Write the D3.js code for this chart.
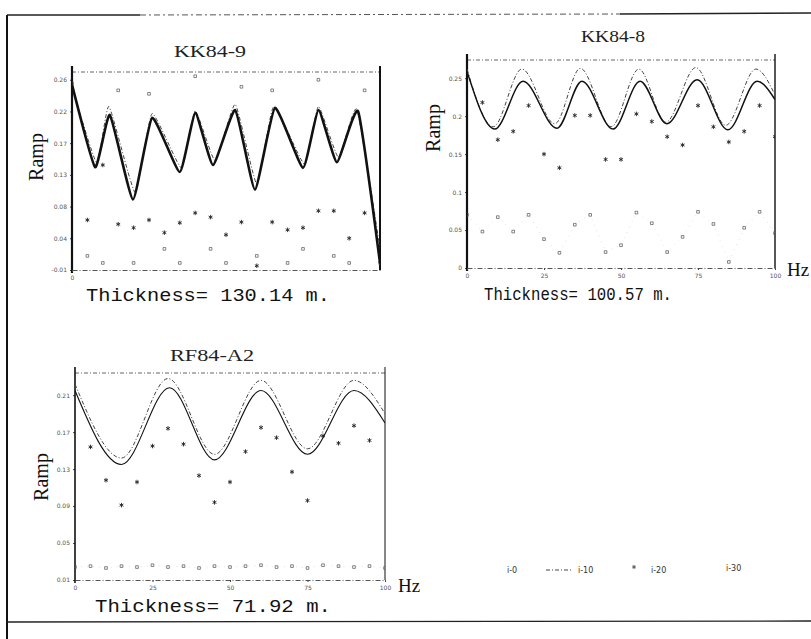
<!DOCTYPE html>
<html>
<head>
<meta charset="utf-8">
<script src="https://cdn.jsdelivr.net/npm/d3@7"></script>
<style>
  body { margin: 0; background: #fff; }
  svg { display: block; }
  .tick text { font-family: 'DejaVu Sans', sans-serif; font-size: 6px; fill: #555; }
  .tick line { stroke: #444; }
</style>
</head>
<body>
<script>
const w = 811;
const h = 639;

// ---- KK84-9 ----
const k9YTicks = [-0.01, 0.035, 0.08, 0.125, 0.17, 0.215, 0.26];
const k9YLabels = ['-0.01', '0.04', '0.08', '0.13', '0.17', '0.22', '0.26'];
const k9XTicks = [0];
const k9XLabels = ['0'];
const k9I0Hz = [0, 7.5, 12.3, 19.8, 26, 35, 40, 45.8, 53, 59.4, 65.9, 75, 80, 86, 92.9, 100];
const k9I0 = [0.253, 0.136, 0.21, 0.09, 0.206, 0.129, 0.213, 0.139, 0.217, 0.104, 0.22, 0.135, 0.217, 0.143, 0.215, 0.0];
const k9I10Hz = [0, 8, 12, 20.5, 26, 35.5, 40, 46.5, 53, 60, 65.5, 75.5, 80, 86.5, 92.5, 100];
const k9I10 = [0.25, 0.142, 0.222, 0.1, 0.212, 0.135, 0.216, 0.145, 0.225, 0.112, 0.222, 0.14, 0.222, 0.15, 0.218, 0.02];
const k9I20Hz = [5, 10, 15, 20, 25, 30, 35, 40, 45, 50, 55, 60, 65, 70, 75, 80, 85, 90, 95];
const k9I20 = [0.061, 0.139, 0.055, 0.05, 0.061, 0.043, 0.057, 0.071, 0.065, 0.04, 0.058, -0.004, 0.058, 0.047, 0.05, 0.074, 0.074, 0.035, 0.071];
const k9I30Hz = [0, 5, 10, 15, 20, 25, 30, 35, 40, 45, 50, 55, 60, 65, 70, 75, 80, 85, 90, 95, 100];
const k9I30 = [0.255, 0.01, 0.0, 0.245, 0.0, 0.24, 0.02, 0.0, 0.265, 0.02, 0.0, 0.25, 0.01, 0.245, 0.0, 0.02, 0.26, 0.01, 0.0, 0.245, 0.0];

// ---- KK84-8 ----
const k8YTicks = [0, 0.05, 0.1, 0.15, 0.2, 0.25];
const k8YLabels = ['0', '0.05', '0.1', '0.15', '0.2', '0.25'];
const k8XTicks = [0, 25, 50, 75, 100];
const k8XLabels = ['0', '25', '50', '75', '100'];
const k8I0Hz = [0, 9, 18.2, 29.2, 37.3, 47.4, 56.2, 64.9, 74.7, 84.7, 94.2, 100];
const k8I0 = [0.259, 0.183, 0.246, 0.184, 0.246, 0.183, 0.246, 0.19, 0.248, 0.182, 0.246, 0.222];
const k8I10Hz = [0, 8.5, 17.8, 28.5, 36.8, 46.8, 55.8, 64.5, 74.3, 84, 93.8, 100];
const k8I10 = [0.262, 0.186, 0.262, 0.19, 0.263, 0.186, 0.262, 0.192, 0.264, 0.188, 0.262, 0.228];
const k8I20Hz = [5, 10, 15, 20, 25, 30, 35, 40, 45, 50, 55, 60, 65, 70, 75, 80, 85, 90, 95, 100];
const k8I20 = [0.218, 0.169, 0.18, 0.214, 0.15, 0.132, 0.201, 0.201, 0.143, 0.143, 0.203, 0.193, 0.173, 0.162, 0.214, 0.186, 0.166, 0.18, 0.214, 0.173];
const k8I30Hz = [0, 5, 10, 15, 20, 25, 30, 35, 40, 45, 50, 55, 60, 65, 70, 75, 80, 85, 90, 95, 100];
const k8I30 = [0.07, 0.048, 0.067, 0.048, 0.07, 0.038, 0.02, 0.057, 0.07, 0.021, 0.03, 0.073, 0.059, 0.021, 0.041, 0.074, 0.058, 0.008, 0.053, 0.074, 0.046];

// ---- RF84-A2 ----
const a2YTicks = [0.01, 0.05, 0.09, 0.13, 0.17, 0.21];
const a2YLabels = ['0.01', '0.05', '0.09', '0.13', '0.17', '0.21'];
const a2XTicks = [0, 25, 50, 75, 100];
const a2XLabels = ['0', '25', '50', '75', '100'];
const a2I0Hz = [0, 15, 30.5, 45, 60, 75, 90, 100];
const a2I0 = [0.215, 0.135, 0.218, 0.14, 0.215, 0.146, 0.215, 0.18];
const a2I10Hz = [0, 15, 30, 45, 60, 75, 90, 100];
const a2I10 = [0.222, 0.142, 0.228, 0.146, 0.226, 0.152, 0.226, 0.19];
const a2I20Hz = [5, 10, 15, 20, 25, 30, 35, 40, 45, 50, 55, 60, 65, 70, 75, 80, 85, 90, 95];
const a2I20 = [0.154, 0.118, 0.091, 0.116, 0.155, 0.174, 0.157, 0.123, 0.094, 0.116, 0.149, 0.175, 0.164, 0.127, 0.096, 0.166, 0.158, 0.177, 0.161];
const a2I30Hz = [0, 5, 10, 15, 20, 25, 30, 35, 40, 45, 50, 55, 60, 65, 70, 75, 80, 85, 90, 95, 100];
const a2I30 = [0.024, 0.025, 0.023, 0.025, 0.024, 0.026, 0.024, 0.025, 0.023, 0.025, 0.024, 0.025, 0.026, 0.024, 0.025, 0.023, 0.026, 0.025, 0.024, 0.025, 0.023];

const legendLabels = ['i-0', 'i-10', 'i-20', 'i-30'];

const svg = d3.select('body').append('svg').attr('width', w).attr('height', h);

// page frame (scanned sheet border)
svg.append('line').attr('x1', 7).attr('y1', 15).attr('x2', 7).attr('y2', 639)
  .attr('stroke', '#111').attr('stroke-width', 2);
svg.append('line').attr('x1', 7).attr('y1', 15).attr('x2', 140).attr('y2', 15)
  .attr('stroke', '#222').attr('stroke-width', 1.3);
svg.append('line').attr('x1', 140).attr('y1', 15).attr('x2', 620).attr('y2', 14)
  .attr('stroke', '#555').attr('stroke-width', 1).attr('stroke-dasharray', '6,3,2,3');
svg.append('line').attr('x1', 620).attr('y1', 14).attr('x2', 811).attr('y2', 13)
  .attr('stroke', '#222').attr('stroke-width', 1.3);
svg.append('line').attr('x1', 7).attr('y1', 622).attr('x2', 811).attr('y2', 621)
  .attr('stroke', '#222').attr('stroke-width', 1.3);

let clipId = 0;

const drawPanel = (p) => {
  const g = svg.append('g');
  const x = d3.scaleLinear().domain([0, 100]).range([p.left, p.right]);
  const y = d3.scaleLinear().domain(p.yDomain).range([p.bottom, p.top]);

  const id = 'clip' + clipId++;
  svg.append('clipPath').attr('id', id)
    .append('rect')
    .attr('x', p.left).attr('y', p.top - 4)
    .attr('width', p.right - p.left).attr('height', p.bottom - p.top + 6);

  // frame: dashed top / bottom, solid sides
  g.append('line').attr('x1', p.left).attr('x2', p.right).attr('y1', p.top).attr('y2', p.top)
    .attr('stroke', '#666').attr('stroke-dasharray', '4,2,1,2');
  g.append('line').attr('x1', p.right).attr('x2', p.right).attr('y1', p.top - 6).attr('y2', p.bottom)
    .attr('stroke', '#111').attr('stroke-width', p.rightW);

  const yAxis = d3.axisLeft(y)
    .tickValues(p.yTicks)
    .tickFormat((d, i) => p.yLabels[i])
    .tickSizeInner(2)
    .tickSizeOuter(0)
    .tickPadding(3);
  const ya = g.append('g').attr('transform', `translate(${p.left},0)`).call(yAxis);
  ya.select('.domain').remove();
  g.append('line').attr('x1', p.left).attr('x2', p.left).attr('y1', p.top - 6).attr('y2', p.bottom + 3)
    .attr('stroke', '#111').attr('stroke-width', p.leftW);

  const xAxis = d3.axisBottom(x)
    .tickValues(p.xTicks)
    .tickFormat((d, i) => p.xLabels[i])
    .tickSizeInner(2)
    .tickSizeOuter(0)
    .tickPadding(4);
  const xa = g.append('g').attr('transform', `translate(0,${p.bottom})`).call(xAxis);
  xa.select('.domain').attr('stroke', '#555').attr('stroke-dasharray', '5,2,1,2');

  const plot = g.append('g').attr('clip-path', `url(#${id})`);

  const line = d3.line()
    .x((d) => x(d[0]))
    .y((d) => y(d[1]))
    .curve(p.curve);

  // i=30 : small squares, faint dotted joins
  const s30 = d3.zip(p.i30Hz, p.i30);
  plot.append('path').attr('d', d3.line().x((d) => x(d[0])).y((d) => y(d[1]))(s30))
    .attr('fill', 'none').attr('stroke', '#aaa').attr('stroke-width', 0.7)
    .attr('stroke-dasharray', '1,5').attr('opacity', p.i30Op);
  plot.selectAll('.sq').data(s30).enter().append('path')
    .attr('transform', (d) => `translate(${x(d[0])},${y(d[1])})`)
    .attr('d', d3.symbol(d3.symbolSquare2, 9))
    .attr('fill', 'none').attr('stroke', '#555').attr('stroke-width', 0.7);

  // i=20 : stars
  plot.selectAll('.st').data(d3.zip(p.i20Hz, p.i20)).enter().append('path')
    .attr('transform', (d) => `translate(${x(d[0])},${y(d[1])})`)
    .attr('d', d3.symbol(d3.symbolAsterisk, 14))
    .attr('fill', 'none').attr('stroke', '#222').attr('stroke-width', 0.9);

  // i=10 : dash-dot with plus marks on the crests
  const s10 = d3.zip(p.i10Hz, p.i10);
  plot.append('path').attr('d', line(s10))
    .attr('fill', 'none').attr('stroke', '#444').attr('stroke-width', 1)
    .attr('stroke-dasharray', '4,2,1,2');
  plot.selectAll('.pl').data(s10.filter((d, i) => i % 2 === 0)).enter().append('path')
    .attr('transform', (d) => `translate(${x(d[0])},${y(d[1]) - 3})`)
    .attr('d', d3.symbol(d3.symbolPlus, 10))
    .attr('fill', '#333');

  // i=0 : solid
  plot.append('path').attr('d', line(d3.zip(p.i0Hz, p.i0)))
    .attr('fill', 'none').attr('stroke', '#111').attr('stroke-width', p.i0W);

  // texts
  svg.append('text').attr('x', p.titleX).attr('y', p.titleY)
    .attr('text-anchor', 'middle')
    .attr('textLength', p.titleLen).attr('lengthAdjust', 'spacingAndGlyphs')
    .style('font-family', "'Liberation Serif', serif").style('font-size', '17px').style('fill', '#222')
    .text(p.title);
  svg.append('text').attr('x', p.thickX).attr('y', p.thickY)
    .attr('text-anchor', 'middle')
    .attr('textLength', p.thickLen).attr('lengthAdjust', 'spacingAndGlyphs')
    .style('font-family', "'Liberation Mono', monospace").style('font-size', '19px').style('fill', '#111')
    .text(p.thick);
  svg.append('text')
    .attr('transform', `translate(${p.rampX},${p.rampY}) rotate(-90)`)
    .attr('text-anchor', 'middle')
    .style('font-family', "'Liberation Serif', serif").style('font-size', '20px').style('fill', '#111')
    .text('Ramp');
  if (p.hz) {
    svg.append('text').attr('x', p.hz[0]).attr('y', p.hz[1])
      .style('font-family', "'Liberation Serif', serif").style('font-size', '19px').style('fill', '#111')
      .text('Hz');
  }
};

drawPanel({
  left: 72, right: 380, top: 72, bottom: 270,
  yDomain: [-0.01, 0.271], yTicks: k9YTicks, yLabels: k9YLabels,
  xTicks: k9XTicks, xLabels: k9XLabels,
  i0Hz: k9I0Hz, i0: k9I0, i10Hz: k9I10Hz, i10: k9I10,
  i20Hz: k9I20Hz, i20: k9I20, i30Hz: k9I30Hz, i30: k9I30,
  curve: d3.curveCardinal.tension(0.55), i30Op: 0,
  i0W: 2.6, leftW: 2.2, rightW: 2,
  title: 'KK84-9', titleX: 210, titleY: 57, titleLen: 72,
  thick: 'Thickness= 130.14 m.', thickX: 208, thickY: 301, thickLen: 244,
  rampX: 43, rampY: 157, hz: null
});

drawPanel({
  left: 467, right: 775, top: 60, bottom: 268,
  yDomain: [0, 0.274], yTicks: k8YTicks, yLabels: k8YLabels,
  xTicks: k8XTicks, xLabels: k8XLabels,
  i0Hz: k8I0Hz, i0: k8I0, i10Hz: k8I10Hz, i10: k8I10,
  i20Hz: k8I20Hz, i20: k8I20, i30Hz: k8I30Hz, i30: k8I30,
  curve: d3.curveMonotoneX, i30Op: 0.5,
  i0W: 1.5, leftW: 2.2, rightW: 1.4,
  title: 'KK84-8', titleX: 613, titleY: 42, titleLen: 64,
  thick: 'Thickness= 100.57 m.', thickX: 578, thickY: 300, thickLen: 188,
  rampX: 440, rampY: 128, hz: [787, 276]
});

drawPanel({
  left: 75, right: 385, top: 373, bottom: 580,
  yDomain: [0.01, 0.234], yTicks: a2YTicks, yLabels: a2YLabels,
  xTicks: a2XTicks, xLabels: a2XLabels,
  i0Hz: a2I0Hz, i0: a2I0, i10Hz: a2I10Hz, i10: a2I10,
  i20Hz: a2I20Hz, i20: a2I20, i30Hz: a2I30Hz, i30: a2I30,
  curve: d3.curveMonotoneX, i30Op: 0.5,
  i0W: 1.1, leftW: 1.6, rightW: 1,
  title: 'RF84-A2', titleX: 212, titleY: 361, titleLen: 84,
  thick: 'Thickness= 71.92 m.', thickX: 213, thickY: 612, thickLen: 236,
  rampX: 48, rampY: 477, hz: [398, 592]
});

// legend
const legend = svg.append('g').attr('id', 'legend')
  .style('font-family', "'DejaVu Sans', sans-serif").style('font-size', '8px').style('fill', '#333');
legend.append('text').attr('x', 507).attr('y', 573).text(legendLabels[0]);
legend.append('line').attr('x1', 546).attr('x2', 573).attr('y1', 570).attr('y2', 570)
  .attr('stroke', '#444').attr('stroke-dasharray', '4,2,1,2');
legend.append('text').attr('x', 578).attr('y', 573).text(legendLabels[1]);
legend.append('path').attr('transform', 'translate(634,567)')
  .attr('d', d3.symbol(d3.symbolAsterisk, 12))
  .attr('fill', 'none').attr('stroke', '#444').attr('stroke-width', 0.8);
legend.append('text').attr('x', 651).attr('y', 573).text(legendLabels[2]);
legend.append('text').attr('x', 726).attr('y', 571).text(legendLabels[3]);
</script>
</body>
</html>
